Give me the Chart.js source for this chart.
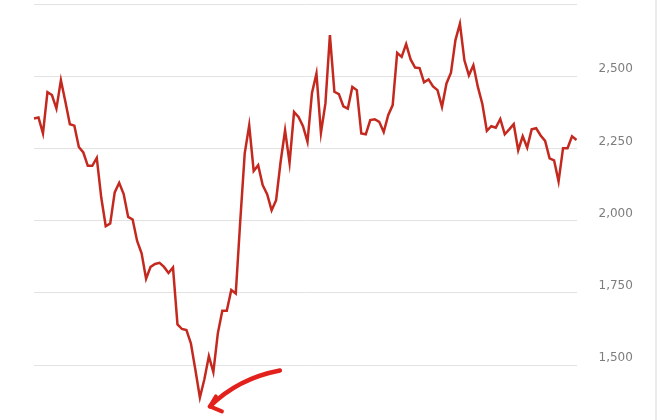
<!doctype html>
<html lang="en">
<head>
  <meta charset="utf-8">
  <title>Price history</title>
  <script src="https://cdn.jsdelivr.net/npm/chart.js"></script>
  <style>
    html,body{margin:0;padding:0;background:#fff;}
    .wrap{position:relative;width:660px;height:420px;overflow:hidden;}
    /* thin page edge on the right */
    .edge{position:absolute;left:655px;top:0;width:2px;height:420px;background:#ebebeb;}
  </style>
</head>
<body>
  <div class="wrap">
    <canvas id="chart" width="660" height="420"></canvas>
    <div class="edge"></div>
  </div>

  <script>
    /* ─── data ─── */
    const PRICES = [
      2354,2357,2302,2445,2435,2388,2486,2412,2334,2329,
      2255,2236,2190,2190,2217,2080,1981,1990,2098,2131,
      2092,2013,2004,1930,1887,1799,1840,1850,1854,1840,
      1819,1838,1641,1625,1621,1575,1483,1388,1451,1531,
      1476,1610,1688,1688,1760,1748,1998,2233,2330,2172,
      2192,2123,2092,2036,2071,2203,2313,2200,2376,2359,
      2327,2273,2442,2509,2304,2406,2642,2446,2438,2396,
      2388,2463,2452,2302,2299,2348,2351,2342,2307,2365,
      2400,2581,2567,2611,2558,2530,2528,2479,2489,2465,
      2452,2394,2475,2512,2625,2682,2555,2503,2538,2463,
      2404,2311,2327,2322,2352,2299,2316,2334,2244,2292,
      2253,2316,2320,2295,2276,2216,2209,2136,2251,2251,
      2292,2279
    ];
    const LABELS = PRICES.map((_,i)=>String(i+1));
    const Y_TICKS = [1500,1750,2000,2250,2500,2750];
    const Y_MIN = 1310, Y_MAX = 2750;

    const LINE_RED  = '#c4291f';
    const ARROW_RED = '#e3211c';

    /* hand-drawn arrow pointing at the lowest point */
    const arrowPlugin={
      id:'lowArrow',
      afterDatasetsDraw(chart){
        const {ctx}=chart;
        const data=chart.data.datasets[0].data;
        const idx=data.indexOf(Math.min(...data));
        const pt=chart.getDatasetMeta(0).data[idx];
        const px=pt.x, py=pt.y;
        ctx.save();
        ctx.strokeStyle=ARROW_RED;
        ctx.lineCap='round';
        ctx.lineJoin='round';
        ctx.lineWidth=4.5;
        ctx.beginPath();
        ctx.moveTo(px+80,py-27);
        ctx.quadraticCurveTo(px+38,py-19,px+10,py+9);
        ctx.stroke();
        ctx.lineWidth=4;
        ctx.beginPath();
        ctx.moveTo(px+16,py-1);
        ctx.lineTo(px+10,py+9);
        ctx.lineTo(px+22,py+14);
        ctx.stroke();
        ctx.restore();
      }
    };

    new Chart(document.getElementById('chart'),{
      type:'line',
      data:{
        labels:LABELS,
        datasets:[{
          data:PRICES,
          borderColor:LINE_RED,
          borderWidth:2.5,
          pointRadius:0,
          tension:0,
          fill:false
        }]
      },
      options:{
        responsive:false,
        animation:false,
        layout:{autoPadding:false,padding:{left:34,top:4,right:0,bottom:0}},
        plugins:{legend:{display:false},tooltip:{enabled:false}},
        scales:{
          x:{display:false,offset:false},
          y:{
            position:'right',
            min:Y_MIN,max:Y_MAX,
            border:{display:false},
            grid:{color:'#e2e2e2',lineWidth:1,drawTicks:false},
            afterBuildTicks:a=>{a.ticks=Y_TICKS.map(v=>({value:v}));},
            // fixed axis width, and no extra vertical room for the labels
            afterFit:s=>{s.width=83.5;s.paddingTop=0;s.paddingBottom=0;},
            ticks:{
              padding:22,
              labelOffset:-7,
              color:'#7d7d7d',
              font:{family:'"DejaVu Sans", sans-serif',size:12},
              callback:v=>v>=Y_MAX?'':v.toLocaleString('en-US')
            }
          }
        }
      },
      plugins:[arrowPlugin]
    });
  </script>
</body>
</html>
